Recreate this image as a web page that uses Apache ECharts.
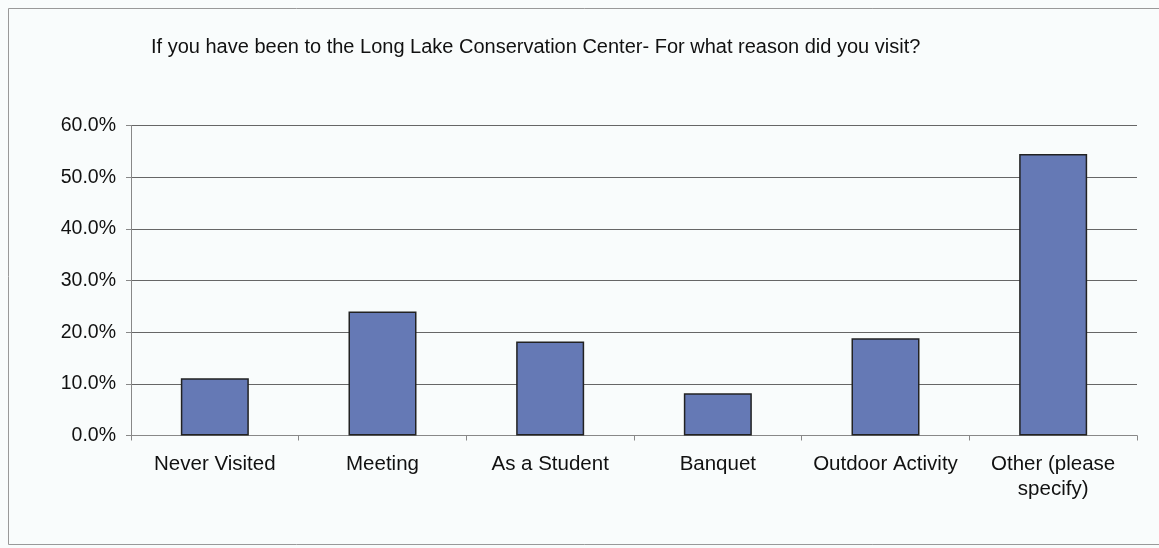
<!DOCTYPE html>
<html><head><meta charset="utf-8">
<script src="https://cdn.jsdelivr.net/npm/echarts@6/dist/echarts.min.js"></script>
<style>html,body{margin:0;padding:0;background:#fff}#c{width:1159px;height:548px}</style>
</head><body><div id="c"></div>
<script>
const categories = ['Never Visited', 'Meeting', 'As a Student', 'Banquet', 'Outdoor Activity', 'Other (please\nspecify)'];
const values = [11.1, 24.0, 18.2, 8.2, 18.8, 54.5];
const titleText = 'If you have been to the Long Lake Conservation Center- For what reason did you visit?';

const chart = echarts.init(document.getElementById('c'));
chart.setOption({
  backgroundColor: '#f9fcfc',
  animation: false,
  title: {
    text: titleText, left: 146, top: 32,
    textStyle: { fontFamily: 'Liberation Sans, Arial', fontSize: 20, fontWeight: 'normal', color: '#111' }
  },
  graphic: [{ type: 'rect', shape: { x: 8.5, y: 8.5, width: 1160, height: 536 }, style: { fill: 'none', stroke: '#999', lineWidth: 1 } }],
  grid: { left: 131, right: 22, top: 125.5, bottom: 112.5 },
  xAxis: {
    type: 'category', data: categories,
    axisLine: { lineStyle: { color: '#888' } },
    axisTick: { show: true, length: 5, lineStyle: { color: '#888' } },
    axisLabel: { fontFamily: 'Liberation Sans, Arial', fontSize: 20.5, color: '#111', margin: 16, lineHeight: 25, interval: 0 }
  },
  yAxis: {
    type: 'value', min: 0, max: 60, interval: 10,
    axisLine: { show: true, lineStyle: { color: '#888' } },
    axisTick: { show: true, length: 5, lineStyle: { color: '#888' } },
    splitLine: { lineStyle: { color: '#666' } },
    axisLabel: { fontFamily: 'Liberation Sans, Arial', fontSize: 19.5, color: '#111', margin: 15, formatter: v => v.toFixed(1) + '%' }
  },
  series: [{
    type: 'bar', data: values, barWidth: 68,
    itemStyle: { color: '#6579b5', borderColor: '#222', borderWidth: 1.5 }
  }]
});
</script></body></html>
